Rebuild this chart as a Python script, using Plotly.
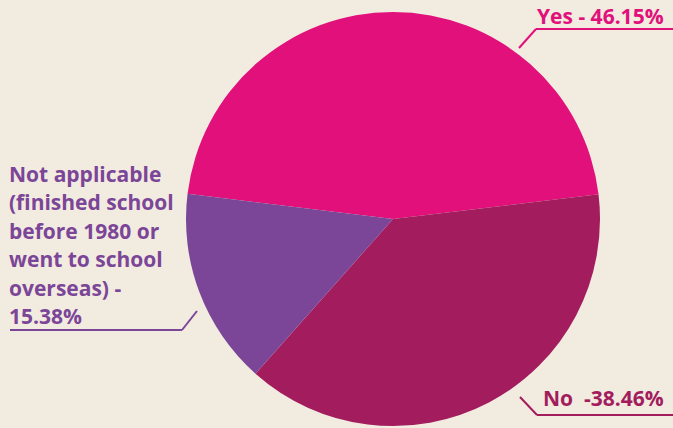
import plotly.graph_objects as go

# Survey answers and their shares (%)
labels = ["Yes", "No", "Not applicable (finished school before 1980 or went to school overseas)"]
values = [46.15, 38.46, 15.38]
colors = ["#E1107B", "#A31D5E", "#7B4697"]
yes_text = "Yes - 46.15%"
no_text = "No  -38.46%"
na_lines = ["Not applicable", "(finished school", "before 1980 or",
            "went to school", "overseas) -", "15.38%"]

W, H = 673, 428
BG = "#F2EBE0"


def px(x):
    return x / W


def py(y):
    return 1 - y / H


# pie centre and radius in pixels
cx, cy, r = 393, 219, 207

fig = go.Figure(
    go.Pie(
        labels=labels,
        values=values,
        sort=False,
        direction="clockwise",
        rotation=-83,
        marker=dict(colors=colors, line=dict(width=0)),
        textinfo="none",
        hoverinfo="label+percent",
        showlegend=False,
        domain=dict(x=[px(cx - r), px(cx + r)], y=[py(cy + r), py(cy - r)]),
    )
)

font_base = dict(family="Open Sans", size=21, weight="bold")

annotations = [
    dict(x=px(535), y=py(16), text=yes_text, font=dict(font_base, color=colors[0])),
    dict(x=px(541), y=py(398), text=no_text, font=dict(font_base, color=colors[1])),
]
for i, line in enumerate(na_lines):
    annotations.append(dict(x=px(7), y=py(174 + 28.4 * i), text=line,
                            font=dict(font_base, color=colors[2])))
for a in annotations:
    a.update(xref="paper", yref="paper", showarrow=False, xanchor="left", yanchor="middle")

# leader lines (pixel coordinates)
leaders = [
    ([(519, 48), (536, 29), (673, 29)], colors[0]),
    ([(520, 397), (537, 415), (673, 415)], colors[1]),
    ([(197, 311), (182, 330), (10, 330)], colors[2]),
]
shapes = []
for pts, col in leaders:
    for (x0, y0), (x1, y1) in zip(pts[:-1], pts[1:]):
        shapes.append(dict(type="line", xref="paper", yref="paper",
                           x0=px(x0), y0=py(y0), x1=px(x1), y1=py(y1),
                           line=dict(color=col, width=2)))

fig.update_layout(
    width=W, height=H,
    margin=dict(l=0, r=0, t=0, b=0),
    paper_bgcolor=BG, plot_bgcolor=BG,
    annotations=annotations,
    shapes=shapes,
)

fig.write_html("out.html")
